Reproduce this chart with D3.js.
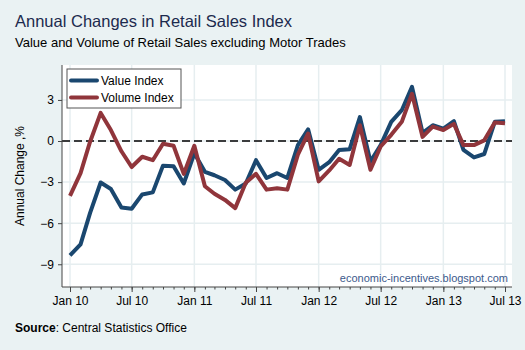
<!DOCTYPE html>
<html>
<head>
<meta charset="utf-8">
<script src="https://cdn.jsdelivr.net/npm/d3@7"></script>
<style>
  body { margin: 0; background: #eaf2f3; }
  svg { display: block; font-family: Arial, "Liberation Sans", sans-serif; }
</style>
</head>
<body>
<div id="chart"></div>
<script>
// monthly data, Jan 2010 .. Jul 2013
var months = d3.timeMonth.range(new Date(2010, 0, 1), new Date(2013, 7, 1));

var valueIndex = [-8.35, -7.55, -5.25, -3.03, -3.5, -4.85, -4.95, -3.9, -3.75, -1.8, -1.85, -3.1,
  -0.9, -2.25, -2.5, -2.85, -3.55, -3.1, -1.4, -2.7, -2.35, -2.7, -0.3, 0.85,
  -2.1, -1.55, -0.65, -0.6, 1.75, -1.5, -0.3, 1.4, 2.25, 3.95, 0.6, 1.15,
  0.9, 1.45, -0.65, -1.2, -0.95, 1.4, 1.45];

var volumeIndex = [-4.0, -2.35, -0.05, 2.05, 0.8, -0.75, -1.9, -1.15, -1.4, -0.2, -0.35, -2.4,
  -0.35, -3.3, -3.85, -4.3, -4.9, -3.05, -2.4, -3.55, -3.45, -3.55, -1.0, 0.55,
  -2.95, -2.15, -1.3, -1.75, 1.15, -2.1, -0.4, 0.45, 1.4, 3.45, 0.3, 1.05,
  0.8, 1.25, -0.3, -0.3, 0.05, 1.35, 1.3];

var seriesNames = ["Value Index", "Volume Index"];
var yTicks = [3, 0, -3, -6, -9];
var xTickLabels = ["Jan 10", "Jul 10", "Jan 11", "Jul 11", "Jan 12", "Jul 12", "Jan 13", "Jul 13"];
var xTickDates = d3.timeMonth.every(6).range(new Date(2010, 0, 1), new Date(2013, 7, 1));

var W = 525, H = 350;
var plot = {left: 62, right: 512, top: 65, bottom: 287};
var colors = ["#1a476f", "#90353b"];

var svg = d3.select("#chart").append("svg")
  .attr("width", W).attr("height", H);

svg.append("rect").attr("width", W).attr("height", H).attr("fill", "#eaf2f3");

svg.append("text").attr("x", 15).attr("y", 27)
  .attr("font-size", "16.5px").attr("fill", "#1c2a4e")
  .text("Annual Changes in Retail Sales Index");
svg.append("text").attr("x", 15).attr("y", 46.5)
  .attr("font-size", "13px").attr("fill", "#000")
  .text("Value and Volume of Retail Sales excluding Motor Trades");

// plot region
svg.append("rect")
  .attr("x", plot.left).attr("y", plot.top)
  .attr("width", plot.right - plot.left).attr("height", plot.bottom - plot.top)
  .attr("fill", "white");

var x = d3.scaleTime()
  .domain([months[0], months[months.length - 1]])
  .range([70, 505]);

var y = d3.scaleLinear()
  .domain([-10.66, 5.55])
  .range([plot.bottom, plot.top]);

// grid
svg.append("g").selectAll("line")
  .data(yTicks).enter().append("line")
  .attr("x1", plot.left).attr("x2", plot.right)
  .attr("y1", d => y(d)).attr("y2", d => y(d))
  .attr("stroke", "#e6eef0").attr("stroke-width", 1.5);

svg.append("g").selectAll("line")
  .data(xTickDates).enter().append("line")
  .attr("x1", d => x(d)).attr("x2", d => x(d))
  .attr("y1", plot.top).attr("y2", plot.bottom)
  .attr("stroke", "#e6eef0").attr("stroke-width", 1.5);

// zero line
svg.append("line")
  .attr("x1", plot.left).attr("x2", plot.right)
  .attr("y1", y(0)).attr("y2", y(0))
  .attr("stroke", "black").attr("stroke-width", 1.3)
  .attr("stroke-dasharray", "8,4");

// axes
var yAxis = svg.append("g")
  .attr("transform", "translate(" + plot.left + ",0)")
  .call(d3.axisLeft(y).tickValues(yTicks).tickSize(4).tickPadding(4));
yAxis.select(".domain").attr("d", "M0," + plot.top + "V" + plot.bottom).attr("stroke", "#444");
yAxis.selectAll(".tick line").attr("stroke", "#444");
yAxis.selectAll("text").attr("font-size", "12px").attr("fill", "#000")
  .attr("font-family", "Arial, 'Liberation Sans', sans-serif");

var xMinor = svg.append("g")
  .attr("transform", "translate(0," + plot.bottom + ")")
  .call(d3.axisBottom(x).tickValues(months).tickSize(2.5).tickFormat(""));
xMinor.select(".domain").remove();
xMinor.selectAll(".tick line").attr("stroke", "#444");

var xAxis = svg.append("g")
  .attr("transform", "translate(0," + plot.bottom + ")")
  .call(d3.axisBottom(x).tickValues(xTickDates).tickSize(5).tickPadding(4)
    .tickFormat((d, i) => xTickLabels[i]));
xAxis.select(".domain").attr("d", "M" + plot.left + ",0H" + plot.right).attr("stroke", "#444");
xAxis.selectAll(".tick line").attr("stroke", "#444");
xAxis.selectAll("text").attr("font-size", "12px").attr("fill", "#000")
  .attr("font-family", "Arial, 'Liberation Sans', sans-serif");

svg.append("text")
  .attr("transform", "translate(24," + ((plot.top + plot.bottom) / 2) + ") rotate(-90)")
  .attr("text-anchor", "middle").attr("font-size", "12px")
  .text("Annual Change ,%");

// lines
var line = d3.line()
  .x((d, i) => x(months[i]))
  .y(d => y(d));

[valueIndex, volumeIndex].forEach(function (s, k) {
  svg.append("path")
    .datum(s)
    .attr("d", line)
    .attr("fill", "none")
    .attr("stroke", colors[k])
    .attr("stroke-width", 4)
    .attr("stroke-linejoin", "round");
});

// legend
var lg = svg.append("g");
lg.append("rect")
  .attr("x", 67).attr("y", 69).attr("width", 114).attr("height", 39)
  .attr("fill", "white").attr("stroke", "#555").attr("stroke-width", 1);
seriesNames.forEach(function (n, k) {
  var cy = 80.5 + k * 17;
  lg.append("line").attr("x1", 71).attr("x2", 97).attr("y1", cy).attr("y2", cy)
    .attr("stroke", colors[k]).attr("stroke-width", 4).attr("stroke-linecap", "round");
  lg.append("text").attr("x", 101).attr("y", cy + 4.3)
    .attr("font-size", "12px").text(n);
});

svg.append("text")
  .attr("x", 508).attr("y", 281.5).attr("text-anchor", "end")
  .attr("font-size", "11px").attr("fill", "#3c5a8c")
  .text("economic-incentives.blogspot.com");

var src = svg.append("text").attr("x", 15).attr("y", 331.5).attr("font-size", "12px");
src.append("tspan").attr("font-weight", "bold").text("Source");
src.append("tspan").text(": Central Statistics Office");
</script>
</body>
</html>
